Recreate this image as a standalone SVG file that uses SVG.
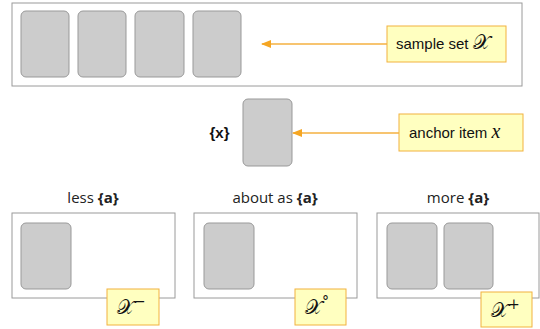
<svg xmlns="http://www.w3.org/2000/svg" width="540" height="329" viewBox="0 0 540 329">
<style>
.frame{fill:#fff;stroke:#9a9a9a;stroke-width:1}
.card{fill:#cccccc;stroke:#999;stroke-width:1}
.lbl{fill:#ffffc0;stroke:#f2b23f;stroke-width:1}
.t{font-family:"Liberation Sans",Arial,sans-serif;font-size:15px;fill:#111}
.h{font-family:"Open Sans",Lato,sans-serif;font-size:15px;fill:#222}
.m{font-family:"DejaVu Serif","Liberation Serif",serif;font-style:normal;font-size:20px;fill:#111}
.mi{font-family:"Liberation Serif",serif;font-style:italic;font-size:20px;fill:#111}
.arr{stroke:#f5b041;stroke-width:1.5;fill:none}
</style>
<defs>
<marker id="ah" markerWidth="10" markerHeight="8" refX="9" refY="4" orient="auto" markerUnits="userSpaceOnUse">
<path d="M0,0 L10,4 L0,8 z" fill="#f5a623"/>
</marker>
</defs>
<g id="sample-set">
<rect class="frame" x="12" y="3" width="510" height="83"/>
<rect class="card" x="21" y="11" width="48" height="66" rx="5"/>
<rect class="card" x="78" y="11" width="48" height="66" rx="5"/>
<rect class="card" x="135" y="11" width="49" height="66" rx="5"/>
<rect class="card" x="193" y="11" width="48" height="66" rx="5"/>
</g>
<g id="label-sample">
<rect class="lbl" x="387" y="26" width="119" height="36"/>
<text class="t" x="396" y="49">sample set <tspan class="m">𝒳</tspan></text>
</g>
<g id="anchor">
<rect class="card" x="243" y="99" width="49" height="67" rx="5"/>
<text class="t" x="219.5" y="138" text-anchor="middle" font-weight="bold">{x}</text>
</g>
<g id="label-anchor">
<rect class="lbl" x="399" y="114" width="124" height="37"/>
<text class="t" x="409" y="138">anchor item <tspan class="mi">x</tspan></text>
</g>
<g id="less">
<text class="h" x="93" y="203" text-anchor="middle">less <tspan font-weight="bold">{a}</tspan></text>
<rect class="frame" x="12" y="213" width="163" height="85"/>
<rect class="card" x="21" y="223" width="50" height="66" rx="5"/>
</g>
<g id="about">
<text class="h" x="275" y="203" text-anchor="middle">about as <tspan font-weight="bold">{a}</tspan></text>
<rect class="frame" x="194" y="213" width="163" height="85"/>
<rect class="card" x="204" y="223" width="50" height="66" rx="5"/>
</g>
<g id="more">
<text class="h" x="458" y="203" text-anchor="middle">more <tspan font-weight="bold">{a}</tspan></text>
<rect class="frame" x="377" y="213" width="162" height="85"/>
<rect class="card" x="387" y="223" width="50" height="66" rx="5"/>
<rect class="card" x="444" y="223" width="49" height="66" rx="5"/>
</g>
<g id="label-minus">
<rect class="lbl" x="107" y="289" width="52" height="36"/>
<text class="m" x="117" y="314">𝒳<tspan font-size="14" dy="-8">−</tspan></text>
</g>
<g id="label-circ">
<rect class="lbl" x="295" y="289" width="51" height="36"/>
<text class="m" x="305" y="314">𝒳<tspan font-size="14" dy="-8">°</tspan></text>
</g>
<g id="label-plus">
<rect class="lbl" x="481" y="292" width="51" height="35"/>
<text class="m" x="491" y="317">𝒳<tspan font-size="14" dy="-8">+</tspan></text>
</g>
<g id="connectors">
<line class="arr" x1="387" y1="44" x2="262" y2="44" marker-end="url(#ah)"/>
<line class="arr" x1="399" y1="133" x2="293" y2="133" marker-end="url(#ah)"/>
</g>
</svg>
